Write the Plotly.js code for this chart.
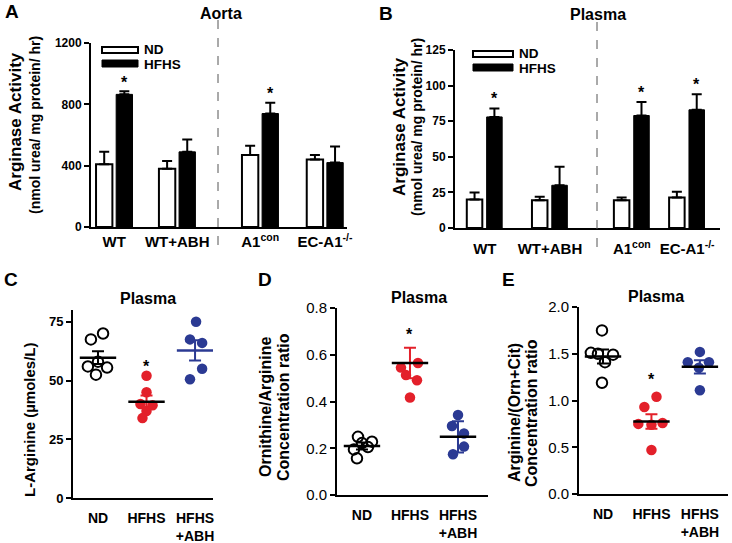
<!DOCTYPE html>
<html><head><meta charset="utf-8">
<script src="https://cdn.plot.ly/plotly-3.0.1.min.js"></script>
<style>html,body{margin:0;padding:0;background:#fff}#chart{width:732px;height:543px}</style>
</head><body><div id="chart"></div>
<script>
// ---------- DATA ----------
const barCats = ['WT', 'WT+ABH', 'A1<sup>con</sup>', 'EC-A1<sup>-/-</sup>'];
// Panel A (Aorta) arginase activity
const aortaND = [410, 380, 470, 440];
const aortaNDerr = [80, 50, 60, 30];
const aortaHFHS = [865, 490, 740, 420];
const aortaHFHSerr = [20, 80, 70, 105];
// Panel B (Plasma) arginase activity
const plasmaND = [20, 19.5, 19.5, 21.5];
const plasmaNDerr = [5, 2.5, 2, 4];
const plasmaHFHS = [78, 30, 79, 83];
const plasmaHFHSerr = [6, 13, 9.5, 11];

const dotCats = ['ND', 'HFHS', 'HFHS<br>+ABH'];
// Panel C L-Arginine
const argND = [70, 67.5, 58, 56, 55.5, 52.5];
const argHFHS = [52, 45, 40, 39.5, 37, 34];
const argABH = [75, 67.5, 66, 55, 50.5];
const argMean = [59.7, 41, 62.8];
const argSem = [2.7, 2.6, 4.3];
// Panel D Ornithine/Arginine
const ornND = [0.249, 0.228, 0.222, 0.205, 0.195, 0.157];
const ornHFHS = [0.565, 0.545, 0.513, 0.491, 0.417];
const ornABH = [0.342, 0.295, 0.263, 0.207, 0.174];
const ornMean = [0.21, 0.565, 0.249];
const ornErr = [0.015, 0.065, 0.067];
// Panel E Arginine/(Orn+Cit)
const ratND = [1.75, 1.51, 1.50, 1.49, 1.41, 1.19];
const ratHFHS = [1.04, 0.93, 0.75, 0.74, 0.76, 0.47];
const ratABH = [1.52, 1.41, 1.41, 1.35, 1.11];
const ratMean = [1.47, 0.775, 1.36];
const ratSem = [0.075, 0.078, 0.07];

// ---------- LAYOUT HELPERS (positions/styles) ----------
const W = 732, H = 543;
const P = px => px / W, Q = py => 1 - py / H;
const FONT = 'Liberation Sans, Arial, sans-serif';
const RED = '#e3202a', BLUE = '#2b3a93';
const posA = [0, 1, 2.32, 3.35];
const posB = [0, 1.05, 2.37, 3.26];
// horizontal jitter of dots (px)
const jit = {
  cND: [5, -7, 0, -10, 9, -2], cHF: [0, 0, -6, 6, 0, -4], cAB: [1, -5, 7, 7, -5],
  dND: [-4, 10, 0, 6, -8, -5], dHF: [8, -9, -4, 7, 0], dAB: [0, -6, 6, 6, -5],
  eND: [-1, -12, -5, 10, 2, -1], eHF: [5, -7, -13, 0, 11, 0], eAB: [0, -12, 9, -1, 0]
};
const PXU = 48; // px per category unit in dot panels

const traces = [];
const annotations = [];
const shapes = [];

function barPair(xa, ya, pos, nd, ndErr, hf, hfErr, w, off1, off2) {
  const zeros = nd.map(() => 0);
  traces.push({type: 'bar', x: pos, y: nd, xaxis: xa, yaxis: ya, width: w, offset: off1,
    marker: {color: '#fff', line: {color: '#000', width: 2}},
    error_y: {type: 'data', array: ndErr, arrayminus: zeros, symmetric: false, color: '#000', thickness: 2, width: 5},
    hoverinfo: 'skip', showlegend: false});
  traces.push({type: 'bar', x: pos, y: hf, xaxis: xa, yaxis: ya, width: w, offset: off2,
    marker: {color: '#000', line: {color: '#000', width: 1}},
    error_y: {type: 'data', array: hfErr, arrayminus: zeros, symmetric: false, color: '#000', thickness: 2, width: 5},
    hoverinfo: 'skip', showlegend: false});
}
barPair('x', 'y', posA, aortaND, aortaNDerr, aortaHFHS, aortaHFHSerr, 0.26, -0.29, 0.03);
barPair('x2', 'y2', posB, plasmaND, plasmaNDerr, plasmaHFHS, plasmaHFHSerr, 0.25, -0.29, 0.03);

function dots(xa, ya, idx, vals, jx, color, open) {
  traces.push({type: 'scatter', mode: 'markers', xaxis: xa, yaxis: ya,
    x: vals.map((v, i) => idx + jx[i] / PXU), y: vals,
    marker: open ? {symbol: 'circle-open', size: 10.5, color: '#000', line: {width: 2, color: '#000'}}
                 : {symbol: 'circle', size: 10.5, color: color, line: {width: 0}},
    hoverinfo: 'skip', showlegend: false});
}
function meanBar(xa, ya, idx, m, e, lineColor, errColor) {
  traces.push({type: 'scatter', mode: 'markers', xaxis: xa, yaxis: ya, x: [idx], y: [m],
    marker: {symbol: 'line-ew', size: 26, line: {width: 2.5, color: lineColor}},
    error_y: {type: 'data', array: [e], color: errColor, thickness: 2, width: 6},
    hoverinfo: 'skip', showlegend: false});
}
// C
dots('x3', 'y3', 0, argND, jit.cND, '#000', true);
dots('x3', 'y3', 1, argHFHS, jit.cHF, RED, false);
dots('x3', 'y3', 2, argABH, jit.cAB, BLUE, false);
meanBar('x3', 'y3', 0, argMean[0], argSem[0], '#000', '#000');
meanBar('x3', 'y3', 1, argMean[1], argSem[1], '#000', RED);
meanBar('x3', 'y3', 2, argMean[2], argSem[2], BLUE, BLUE);
// D
dots('x4', 'y4', 0, ornND, jit.dND, '#000', true);
dots('x4', 'y4', 1, ornHFHS, jit.dHF, RED, false);
dots('x4', 'y4', 2, ornABH, jit.dAB, BLUE, false);
meanBar('x4', 'y4', 0, ornMean[0], ornErr[0], '#000', '#000');
meanBar('x4', 'y4', 1, ornMean[1], ornErr[1], '#000', RED);
meanBar('x4', 'y4', 2, ornMean[2], ornErr[2], '#000', BLUE);
// E
dots('x5', 'y5', 0, ratND, jit.eND, '#000', true);
dots('x5', 'y5', 1, ratHFHS, jit.eHF, RED, false);
dots('x5', 'y5', 2, ratABH, jit.eAB, BLUE, false);
meanBar('x5', 'y5', 0, ratMean[0], ratSem[0], '#000', '#000');
meanBar('x5', 'y5', 1, ratMean[1], ratSem[1], '#000', RED);
meanBar('x5', 'y5', 2, ratMean[2], ratSem[2], '#000', BLUE);

// significance stars (data coords)
function star(xa, ya, x, y) {
  annotations.push({xref: xa, yref: ya, x: x, y: y, text: '*', showarrow: false,
    font: {family: FONT, size: 16, color: '#000', weight: 700}, yanchor: 'middle'});
}
const hfC = (pos, i, off, w) => pos[i] + off + w / 2;
star('x', 'y', hfC(posA, 0, 0.03, 0.26), aortaHFHS[0] + aortaHFHSerr[0] + 60);
star('x', 'y', hfC(posA, 2, 0.03, 0.26), aortaHFHS[2] + aortaHFHSerr[2] + 60);
star('x2', 'y2', hfC(posB, 0, 0.03, 0.25), plasmaHFHS[0] + plasmaHFHSerr[0] + 7);
star('x2', 'y2', hfC(posB, 2, 0.03, 0.25), plasmaHFHS[2] + plasmaHFHSerr[2] + 7);
star('x2', 'y2', hfC(posB, 3, 0.03, 0.25), plasmaHFHS[3] + plasmaHFHSerr[3] + 7);
star('x3', 'y3', 1, 56);
star('x4', 'y4', 1, 0.685);
star('x5', 'y5', 1, 1.22);

// text helpers (paper coords in px)
function txt(x, y, t, size, opts) {
  annotations.push(Object.assign({xref: 'paper', yref: 'paper', x: P(x), y: Q(y), text: t, showarrow: false,
    xanchor: 'center', yanchor: 'middle', font: {family: FONT, size: size, color: '#000', weight: 700}}, opts || {}));
}
function vtxt(x, y, t, size, weight) {
  annotations.push({xref: 'paper', yref: 'paper', x: P(x), y: Q(y), text: t, showarrow: false, textangle: -90,
    xanchor: 'center', yanchor: 'middle', font: {family: FONT, size: size, color: '#000', weight: weight || 700}});
}
// panel letters
txt(12, 12, 'A', 19); txt(386, 13, 'B', 19); txt(11, 279, 'C', 19); txt(265, 279, 'D', 19); txt(508, 279, 'E', 19);
// titles
txt(221, 13, 'Aorta', 16); txt(598, 14, 'Plasma', 16);
txt(148, 298, 'Plasma', 16); txt(419, 297, 'Plasma', 16); txt(656, 296, 'Plasma', 16);
// y titles
vtxt(16, 122, 'Arginase Activity', 17); vtxt(35, 125, '(nmol urea/ mg protein/ hr)', 14);
vtxt(400, 127, 'Arginase Activity', 17); vtxt(417, 127, '(nmol urea/ mg protein/ hr)', 14);
vtxt(29, 420, 'L-Arginine (µmoles/L)', 15);
vtxt(265, 407, 'Ornithine/Arginine', 16); vtxt(283, 407, 'Concentration ratio', 16);
vtxt(515, 413, 'Arginine/(Orn+Cit)', 16); vtxt(532, 413, 'Concentration ratio', 16);
// legends
function legend(x0, y0, w) {
  shapes.push({type: 'rect', xref: 'paper', yref: 'paper', x0: P(x0), x1: P(x0 + w), y0: Q(y0), y1: Q(y0 + 6),
    fillcolor: '#fff', line: {color: '#000', width: 2}});
  shapes.push({type: 'rect', xref: 'paper', yref: 'paper', x0: P(x0), x1: P(x0 + w), y0: Q(y0 + 13), y1: Q(y0 + 20),
    fillcolor: '#000', line: {color: '#000', width: 1}});
  txt(x0 + w + 4, y0 + 3, 'ND', 13.5, {xanchor: 'left'});
  txt(x0 + w + 4, y0 + 17, 'HFHS', 13.5, {xanchor: 'left'});
}
legend(102, 47, 36);
legend(473, 51, 40);
// dashed separators
shapes.push({type: 'line', xref: 'paper', yref: 'paper', x0: P(218), x1: P(218), y0: Q(20), y1: Q(253), line: {color: '#555', width: 1, dash: 'dash'}});
shapes.push({type: 'line', xref: 'paper', yref: 'paper', x0: P(597), x1: P(597), y0: Q(22), y1: Q(255), line: {color: '#555', width: 1, dash: 'dash'}});

// axes
const xBase = {showline: true, linewidth: 2, linecolor: '#000', ticks: '', showgrid: false, zeroline: false, fixedrange: true};
const yBase = {showline: true, linewidth: 2, linecolor: '#000', ticks: 'outside', ticklen: 5, tickwidth: 2, tickcolor: '#000',
  showgrid: false, zeroline: false, fixedrange: true};
const boldTick = s => ({family: FONT, size: s, color: '#000', weight: 700});
const regTick = s => ({family: FONT, size: s, color: '#000'});

const layout = {
  width: W, height: H, margin: {l: 0, r: 0, t: 0, b: 0}, paper_bgcolor: '#fff', plot_bgcolor: 'rgba(0,0,0,0)',
  showlegend: false, barmode: 'overlay',
  xaxis: Object.assign({}, xBase, {domain: [P(91), P(347)], range: [-0.37, 3.7], anchor: 'y', tickvals: posA, ticktext: barCats, tickfont: boldTick(15), ticklabelstandoff: 0}),
  yaxis: Object.assign({}, yBase, {domain: [Q(227), Q(43)], range: [0, 1200], anchor: 'x', tickvals: [0, 400, 800, 1200], tickfont: boldTick(12)}),
  xaxis2: Object.assign({}, xBase, {domain: [P(455), P(720)], range: [-0.48, 3.79], anchor: 'y2', tickvals: posB, ticktext: barCats, tickfont: boldTick(15), ticklabelstandoff: 6}),
  yaxis2: Object.assign({}, yBase, {domain: [Q(228), Q(50)], range: [0, 125], anchor: 'x2', tickvals: [0, 25, 50, 75, 100, 125], tickfont: boldTick(12)}),
  xaxis3: Object.assign({}, xBase, {domain: [P(73), P(213)], range: [-0.515, 2.37], anchor: 'y3', tickvals: [0, 1, 2], ticktext: dotCats, tickfont: boldTick(14), ticklabelstandoff: 6}),
  yaxis3: Object.assign({}, yBase, {domain: [Q(498), Q(310)], range: [0, 80], anchor: 'x3', tickvals: [0, 25, 50, 75], tickfont: boldTick(13)}),
  xaxis4: Object.assign({}, xBase, {domain: [P(337), P(488)], range: [-0.52, 2.625], anchor: 'y4', tickvals: [0, 1, 2], ticktext: dotCats, tickfont: boldTick(14), ticklabelstandoff: 6}),
  yaxis4: Object.assign({}, yBase, {domain: [Q(495), Q(308)], range: [0, 0.8], anchor: 'x4', tickvals: [0, 0.2, 0.4, 0.6, 0.8], ticktext: ['0.0', '0.2', '0.4', '0.6', '0.8'], tickfont: regTick(15)}),
  xaxis5: Object.assign({}, xBase, {domain: [P(579), P(728)], range: [-0.495, 2.58], anchor: 'y5', tickvals: [0, 1, 2], ticktext: dotCats, tickfont: boldTick(14), ticklabelstandoff: 6}),
  yaxis5: Object.assign({}, yBase, {domain: [Q(494), Q(307)], range: [0, 2], anchor: 'x5', tickvals: [0, 0.5, 1, 1.5, 2], ticktext: ['0.0', '0.5', '1.0', '1.5', '2.0'], tickfont: regTick(15)}),
  annotations: annotations, shapes: shapes
};
Plotly.newPlot('chart', traces, layout, {displayModeBar: false, staticPlot: true});
</script></body></html>
